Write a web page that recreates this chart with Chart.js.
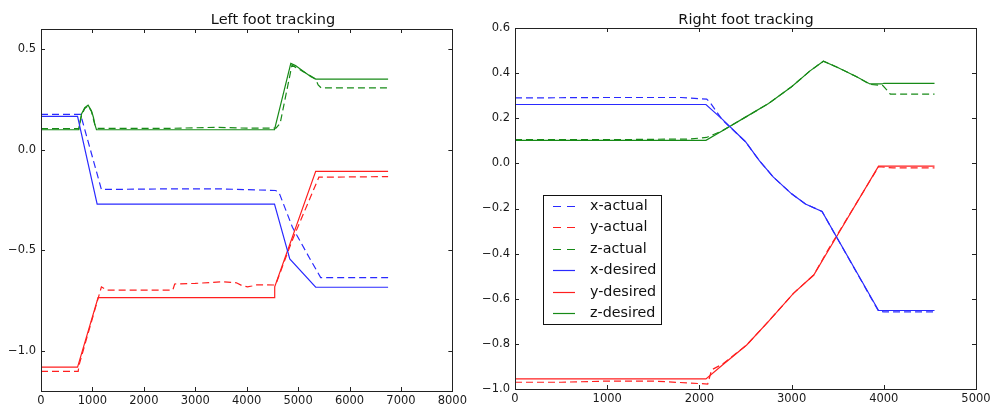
<!DOCTYPE html>
<html>
<head>
<meta charset="utf-8">
<script src="https://cdn.jsdelivr.net/npm/chart.js@4.4.1/dist/chart.umd.min.js"></script>
<style>
  html, body { margin: 0; padding: 0; background: #fff; }
  #wrap { position: relative; width: 997px; height: 410px; }
  .pane { position: absolute; top: 0; height: 410px; }
</style>
</head>
<body>
<div id="wrap">
  <div class="pane" style="left:0;width:470px"><canvas id="left" width="470" height="410"></canvas></div>
  <div class="pane" style="left:470px;width:527px"><canvas id="right" width="527" height="410"></canvas></div>
</div>
<script>
// ---- left foot ----
var lxActT = [0, 770, 1175, 2500, 3500, 4565, 4632, 4890, 5213, 5439, 6750];
var lxActV = [0.175, 0.175, -0.198, -0.195, -0.195, -0.203, -0.215, -0.386, -0.535, -0.636, -0.636];
var lyActT = [0, 723, 742, 1175, 1272, 2563, 2600, 3000, 3531, 3800, 3900, 4018, 4100, 4180, 4533, 4580, 4887, 5404, 6750];
var lyActV = [-1.102, -1.102, -1.069, -0.682, -0.698, -0.698, -0.668, -0.665, -0.657, -0.662, -0.675, -0.682, -0.678, -0.672, -0.673, -0.66, -0.45, -0.137, -0.134];
var lzActT = [0, 736, 788, 851, 916, 981, 1046, 1100, 2500, 3400, 4000, 4570, 4650, 4880, 5100, 5340, 5390, 5450, 6750];
var lzActV = [0.105, 0.105, 0.17, 0.205, 0.218, 0.19, 0.125, 0.106, 0.106, 0.111, 0.107, 0.107, 0.13, 0.42, 0.388, 0.352, 0.322, 0.307, 0.307];
var lxDesT = [0, 711, 1092, 4541, 4838, 5342, 6750];
var lxDesV = [0.166, 0.166, -0.271, -0.271, -0.543, -0.684, -0.684];
var lyDesT = [0, 711, 1110, 4535, 4545, 5342, 6750];
var lyDesV = [-1.081, -1.081, -0.736, -0.736, -0.682, -0.108, -0.108];
var lzDesT = [0, 736, 760, 788, 851, 916, 981, 1020, 1046, 1079, 4541, 4858, 4950, 5100, 5250, 5342, 6750];
var lzDesV = [0.099, 0.099, 0.14, 0.177, 0.209, 0.221, 0.193, 0.16, 0.127, 0.099, 0.099, 0.429, 0.418, 0.39, 0.363, 0.351, 0.351];

// ---- right foot ----
var rxActT = [0, 1000, 1800, 2079, 2115, 2250, 2500, 2650, 2800, 3000, 3150, 3330, 3943, 4000, 4550];
var rxActV = [0.29, 0.292, 0.292, 0.285, 0.27, 0.192, 0.096, 0.012, -0.06, -0.135, -0.18, -0.213, -0.655, -0.658, -0.658];
var ryActT = [0, 500, 1000, 1500, 2006, 2090, 2133, 2250, 2513, 2750, 3020, 3240, 3400, 3943, 4100, 4550];
var ryActV = [-0.97, -0.97, -0.965, -0.965, -0.976, -0.978, -0.915, -0.89, -0.805, -0.70, -0.576, -0.495, -0.38, -0.015, -0.02, -0.02];
var rzActT = [0, 1000, 1900, 2079, 2250, 2500, 2750, 3000, 3200, 3345, 3500, 3700, 3850, 3990, 4034, 4070, 4550];
var rzActV = [0.105, 0.105, 0.108, 0.115, 0.145, 0.205, 0.265, 0.34, 0.41, 0.453, 0.425, 0.385, 0.35, 0.345, 0.325, 0.307, 0.307];
var rxDesT = [0, 2071, 2250, 2500, 2650, 2800, 3000, 3150, 3330, 3943, 4550];
var rxDesV = [0.261, 0.261, 0.195, 0.096, 0.012, -0.06, -0.135, -0.18, -0.213, -0.652, -0.652];
var ryDesT = [0, 2071, 2250, 2513, 2750, 3020, 3240, 3400, 3943, 4550];
var ryDesV = [-0.955, -0.955, -0.894, -0.805, -0.70, -0.576, -0.495, -0.385, -0.012, -0.012];
var rzDesT = [0, 2071, 2250, 2500, 2750, 3000, 3200, 3345, 3500, 3700, 3850, 3980, 4000, 4550];
var rzDesV = [0.102, 0.102, 0.145, 0.205, 0.265, 0.34, 0.41, 0.453, 0.425, 0.385, 0.352, 0.352, 0.355, 0.355];

var seriesNames = ["x-actual", "y-actual", "z-actual", "x-desired", "y-desired", "z-desired"];
var leftYTicks = [-1.0, -0.5, 0.0, 0.5];

var BLUE = "#2a2aff", RED = "#ff1f1f", GREEN = "#178a17";
Chart.defaults.font.family = "'DejaVu Sans', sans-serif";
Chart.defaults.color = "#1a1a1a";

function pts(t, v) {
    var out = [];
    for (var i = 0; i < t.length; i++) out.push({x: t[i], y: v[i]});
    return out;
}

function fmt(v) {
    var s = Math.abs(v).toFixed(1);
    return (v < -1e-9 ? "\u2212" : "") + s;
}

function makeSets(lists) {
    var colors = [BLUE, RED, GREEN, BLUE, RED, GREEN];
    return lists.map(function (l, i) {
        return {
            label: seriesNames[i],
            data: pts(l[0], l[1]),
            borderColor: colors[i],
            backgroundColor: colors[i],
            borderWidth: 1.2,
            borderDash: i < 3 ? [7, 4] : [],
            pointRadius: 0,
            tension: 0,
            fill: false,
            order: i < 3 ? 2 : 1
        };
    });
}

// frame, inward ticks, title, optional legend
var framePlugin = {
    id: "frame",
    afterDraw: function (chart, args, o) {
        var ctx = chart.ctx, a = chart.chartArea, sx = chart.scales.x, sy = chart.scales.y;
        ctx.save();
        ctx.strokeStyle = "#222";
        ctx.lineWidth = 1;
        ctx.beginPath();
        sx.ticks.forEach(function (t) {
            var px = Math.round(sx.getPixelForValue(t.value)) + 0.5;
            ctx.moveTo(px, a.bottom); ctx.lineTo(px, a.bottom - 4);
            ctx.moveTo(px, a.top); ctx.lineTo(px, a.top + 4);
        });
        sy.ticks.forEach(function (t) {
            var py = Math.round(sy.getPixelForValue(t.value)) + 0.5;
            ctx.moveTo(a.left, py); ctx.lineTo(a.left + 4, py);
            ctx.moveTo(a.right, py); ctx.lineTo(a.right - 4, py);
        });
        ctx.stroke();
        ctx.strokeRect(Math.round(a.left) + 0.5, Math.round(a.top) + 0.5,
            Math.round(a.right - a.left), Math.round(a.bottom - a.top));

        ctx.fillStyle = "#111";
        ctx.font = "14.5px 'DejaVu Sans'";
        ctx.textAlign = "center";
        ctx.textBaseline = "alphabetic";
        ctx.fillText(o.title, o.titleX, o.titleY);

        if (o.legend) {
            var L = o.legend, bx = a.left + L.dx, by = a.top + L.dy;
            ctx.fillStyle = "#fff";
            ctx.fillRect(bx, by, L.w, L.h);
            ctx.strokeStyle = "#111";
            ctx.strokeRect(bx + 0.5, by + 0.5, L.w, L.h);
            ctx.font = "14.3px 'DejaVu Sans'";
            ctx.textAlign = "left";
            ctx.textBaseline = "middle";
            chart.data.datasets.forEach(function (ds, i) {
                var ry = Math.round(by + 11 + i * 21.4) + 0.5;
                ctx.strokeStyle = ds.borderColor;
                ctx.lineWidth = 1.2;
                ctx.setLineDash(ds.borderDash.length ? [8, 6] : []);
                ctx.beginPath();
                ctx.moveTo(bx + 10, ry); ctx.lineTo(bx + 32, ry);
                ctx.stroke();
                ctx.setLineDash([]);
                ctx.fillStyle = "#111";
                ctx.fillText(ds.label, bx + 47, ry);
            });
        }
        ctx.restore();
    }
};

function build(id, lists, cfg) {
    return new Chart(document.getElementById(id), {
        type: "line",
        data: {datasets: makeSets(lists)},
        plugins: [framePlugin],
        options: {
            responsive: false,
            animation: false,
            events: [],
            layout: {padding: {left: 0, right: cfg.padRight, top: cfg.top, bottom: 0}},
            plugins: {
                legend: {display: false},
                tooltip: {enabled: false},
                frame: {title: cfg.title, titleX: cfg.titleX, titleY: cfg.titleY, legend: cfg.legend}
            },
            scales: {
                x: {
                    type: "linear",
                    min: 0, max: cfg.xMax,
                    grid: {display: false, drawTicks: false},
                    border: {display: false},
                    ticks: {
                        stepSize: 1000, autoSkip: false, maxRotation: 0, padding: 3,
                        font: {size: 11.5},
                        callback: function (v) { return String(v); }
                    },
                    afterFit: function (s) { s.height = cfg.xH; }
                },
                y: {
                    type: "linear",
                    min: cfg.yMin, max: cfg.yMax,
                    grid: {display: false, drawTicks: false},
                    border: {display: false},
                    ticks: {
                        stepSize: cfg.yStep, padding: 5, font: {size: 11.5},
                        callback: function (v) { return fmt(v); }
                    },
                    afterBuildTicks: cfg.yTicks ? function (s) {
                        s.ticks = cfg.yTicks.map(function (v) { return {value: v}; });
                    } : undefined,
                    afterFit: function (s) { s.width = cfg.yW; }
                }
            }
        }
    });
}

build("left", [
    [lxActT, lxActV], [lyActT, lyActV], [lzActT, lzActV],
    [lxDesT, lxDesV], [lyDesT, lyDesV], [lzDesT, lzDesV]
], {
    title: "Left foot tracking", titleX: 273, titleY: 24,
    xMax: 8000, yMin: -1.2, yMax: 0.6, yStep: 0.5, yTicks: leftYTicks,
    padRight: 16, top: 29, xH: 19, yW: 41
});

build("right", [
    [rxActT, rxActV], [ryActT, ryActV], [rzActT, rzActV],
    [rxDesT, rxDesV], [ryDesT, ryDesV], [rzDesT, rzDesV]
], {
    title: "Right foot tracking", titleX: 276, titleY: 23.5,
    xMax: 5000, yMin: -1.0, yMax: 0.6, yStep: 0.2,
    padRight: 21, top: 28, xH: 21, yW: 45,
    legend: {dx: 28, dy: 167, w: 118, h: 129}
});
</script>
</body>
</html>
